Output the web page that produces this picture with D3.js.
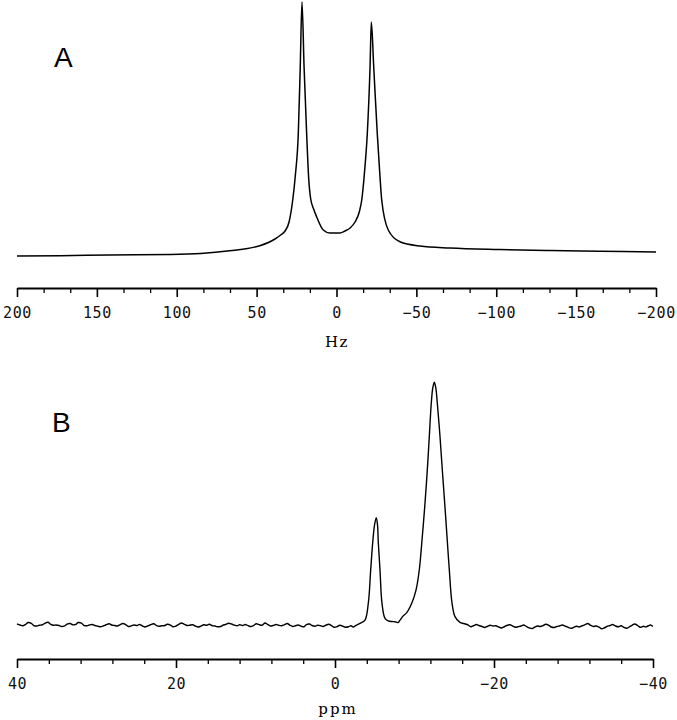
<!DOCTYPE html>
<html>
<head>
<meta charset="utf-8">
<script src="https://cdn.jsdelivr.net/npm/d3@7"></script>
<style>
  body { margin: 0; background: #fff; }
  svg { display: block; }
</style>
</head>
<body>
<div id="container"></div>
<script>
// ---- data ----
// panel A: [Hz, intensity]
let specA = [
  [200, 0], [173, 0.1], [142, 0.4], [104, 0.6], [85, 1.0], [67, 2.1],
  [48, 4.1], [38.5, 6.8], [35, 8.4], [32.2, 10], [29.7, 13.6], [27.4, 22.4],
  [25.8, 32], [23.9, 49.2], [22.7, 75.6], [21.6, 101.6], [20.3, 75.6],
  [18.7, 49.2], [17.4, 31], [16.2, 23], [14.2, 18.6], [12.4, 15.6], [8.3, 10.4],
  [4.1, 9.2], [-2.2, 9.2], [-5.3, 10], [-8.5, 11.2], [-11.6, 13.6],
  [-14.2, 17.5], [-15.8, 22.4], [-17.6, 34], [-19.3, 49.2], [-21.0, 75.6],
  [-21.8, 93.6], [-23.3, 75.6], [-25.5, 49.2], [-27.0, 34], [-28.3, 22.4],
  [-32.4, 10.4], [-39.7, 5.7], [-52.3, 4], [-71, 3.2], [-102, 2.6],
  [-134, 2.2], [-165, 1.9], [-200, 1.6]
];
// panel B: [ppm, intensity]
let specB = [
  [40, 1.6], [39.6, 1.2], [39.3, 0.9], [38.9, 1.5], [38.6, 2.2], [38.2, 1.9], [37.9, 1.0], [37.5, 0.8], [37.2, 1.1], [36.8, 1.3],
  [36.5, 1.9], [36.1, 2.3], [35.8, 1.6], [35.4, 1.1], [35.1, 1.2], [34.7, 1.0], [34.4, 0.6], [34.0, 0.9], [33.7, 1.6], [33.3, 1.8],
  [33.0, 1.3], [32.6, 1.5], [32.3, 2.2], [31.9, 2.0], [31.6, 1.1], [31.2, 0.9], [30.9, 1.2], [30.5, 1.4], [30.2, 1.0], [29.8, 0.7],
  [29.5, 0.5], [29.1, 0.9], [28.8, 1.3], [28.4, 1.7], [28.1, 1.2], [27.7, 1.0], [27.4, 0.8], [27.0, 1.4], [26.7, 1.8], [26.3, 1.3],
  [26.0, 0.6], [25.6, 0.9], [25.3, 1.2], [24.9, 1.0], [24.6, 1.4], [24.2, 0.8], [23.9, 0.4], [23.5, 0.9], [23.2, 1.3], [22.8, 1.7],
  [22.5, 1.1], [22.1, 0.7], [21.8, 0.9], [21.4, 1.0], [21.1, 1.5], [20.7, 1.2], [20.4, 0.5], [20.0, 0.8], [19.7, 1.4], [19.3, 2.0],
  [19.0, 1.6], [18.6, 1.0], [18.3, 1.1], [17.9, 1.3], [17.6, 0.8], [17.2, 0.4], [16.9, 0.7], [16.5, 1.3], [16.2, 1.1], [15.8, 1.5],
  [15.5, 1.0], [15.1, 0.8], [14.8, 0.5], [14.4, 0.6], [14.1, 1.1], [13.7, 1.5], [13.4, 1.9], [13.0, 1.6], [12.7, 1.2], [12.3, 0.9],
  [12.0, 1.3], [11.6, 1.0], [11.3, 1.4], [10.9, 0.9], [10.6, 0.6], [10.2, 1.1], [9.9, 1.7], [9.5, 1.3], [9.2, 1.1], [8.8, 2.0],
  [8.5, 1.5], [8.1, 0.8], [7.8, 1.0], [7.4, 1.4], [7.1, 1.1], [6.7, 0.9], [6.4, 1.3], [6.0, 1.8], [5.7, 1.2], [5.3, 0.6],
  [5.0, 0.9], [4.6, 1.2], [4.3, 0.8], [3.9, 0.5], [3.6, 1.4], [3.2, 1.6], [2.9, 1.0], [2.5, 0.7], [2.2, 1.1], [1.8, 0.9],
  [1.5, 0.6], [1.1, 1.2], [0.8, 1.5], [0.4, 0.9], [0.1, 0.3], [-0.3, 0.6], [-0.6, 1.1], [-1.0, 0.7], [-1.3, 0.3], [-1.7, 0.5],
  [-2.0, 0.9], [-2.3, 0.4], [-2.6, 1.0],
  // peaks
  [-3.14, 1.9], [-3.77, 3.2], [-4.19, 10.0], [-4.49, 23.4], [-4.74, 34.3],
  [-4.97, 41.5], [-5.19, 44.5], [-5.35, 41.5], [-5.45, 34.3], [-5.66, 23.4],
  [-5.91, 10.0], [-6.29, 3.9], [-6.70, 2.9], [-7.17, 2.6], [-7.55, 2.5],
  [-7.92, 2.2], [-8.18, 3.2], [-8.55, 4.8], [-9.02, 6.2], [-9.65, 10.0],
  [-10.19, 15.3], [-10.60, 23.4], [-10.98, 36.8], [-11.32, 50.3], [-11.61, 63.7],
  [-11.86, 77.1], [-12.11, 90.6], [-12.30, 96.8], [-12.49, 99.1], [-12.68, 96.8],
  [-12.87, 90.6], [-13.21, 77.1], [-13.50, 63.7], [-13.80, 50.3], [-14.09, 36.8],
  [-14.38, 23.4], [-14.72, 10.0], [-15.09, 4.6], [-15.72, 2.3], [-16.2, 1.8], [-16.77, 1.2],
  // right baseline
  [-17.1, 0.5], [-17.4, 0.9], [-17.8, 1.4], [-18.1, 1.0], [-18.5, 0.6], [-18.8, 0.2], [-19.2, 0.7], [-19.5, 1.1], [-19.9, 0.8], [-20.2, 0.9],
  [-20.6, 0.4], [-20.9, 0.0], [-21.3, 0.5], [-21.6, 1.0], [-22.0, 1.3], [-22.3, 0.9], [-22.7, 0.3], [-23.0, 0.5], [-23.4, 0.8], [-23.7, 1.2],
  [-24.1, 0.6], [-24.4, 0.1], [-24.8, -0.2], [-25.1, 0.3], [-25.5, 0.8], [-25.8, 0.6], [-26.2, 1.0], [-26.5, 1.5], [-26.9, 1.1], [-27.2, 0.4],
  [-27.6, 0.2], [-27.9, 0.6], [-28.3, 0.9], [-28.6, 1.2], [-29.0, 0.7], [-29.3, 0.3], [-29.7, -0.1], [-30.0, 0.2], [-30.4, 0.7], [-30.7, 0.4],
  [-31.1, 0.9], [-31.4, 1.3], [-31.8, 1.8], [-32.1, 1.2], [-32.5, 0.6], [-32.8, 0.8], [-33.2, 0.4], [-33.5, -0.3], [-33.9, 0.1], [-34.2, 0.6],
  [-34.6, 1.0], [-34.9, 1.4], [-35.3, 0.8], [-35.6, 0.5], [-36.0, 0.9], [-36.3, 0.3], [-36.7, -0.1], [-37.0, 0.4], [-37.4, 1.2], [-37.7, 1.6],
  [-38.1, 0.9], [-38.4, 0.3], [-38.8, 0.7], [-39.1, 0.4], [-39.4, 0.9], [-39.7, 1.2], [-40.0, 0.6]
];

// tick values
let ticksA = [200, 150, 100, 50, 0, -50, -100, -150, -200];
let minorA = [183.33, 166.67, 133.33, 116.67, 83.33, 66.67, 33.33, 16.67,
  -16.67, -33.33, -66.67, -83.33, -116.67, -133.33, -166.67, -183.33];
let ticksB = [40, 20, 0, -20, -40];
let minorB = [36, 32, 28, 24, 16, 12, 8, 4, -4, -8, -12, -16, -24, -28, -32, -36];

let W = 677, H = 720;

let svg = d3.select("#container")
  .append("svg")
    .attr("width", W)
    .attr("height", H)
;

// scales
let xA = d3.scaleLinear().domain([200, -200]).range([17, 656]);
let yA = d3.scaleLinear().domain([0, 100]).range([256, 6]);
let xB = d3.scaleLinear().domain([40, -40]).range([17, 653]);
let yB = d3.scaleLinear().domain([0, 100]).range([628, 380]);

function drawAxis(x, y0, majors, minors) {
  let g = svg.append("g").attr("transform", "translate(0," + y0 + ")");
  // minor ticks
  g.append("g")
      .call(d3.axisBottom(x).tickValues(minors).tickSize(5).tickSizeOuter(0).tickFormat(""))
      .call(s => s.select(".domain").remove())
      .selectAll("line").attr("stroke-width", 1.3)
  ;
  // major ticks + labels
  let ax = g.append("g")
      .call(d3.axisBottom(x).tickValues(majors).tickSize(9).tickSizeOuter(0).tickPadding(10));
  ax.select(".domain").attr("stroke-width", 1.8);
  ax.selectAll("line").attr("stroke-width", 1.6);
  ax.selectAll("text")
      .attr("font-family", "DejaVu Sans Mono")
      .attr("font-size", 15)
      .attr("letter-spacing", 0.6)
      .attr("fill", "#111")
  ;
  return g;
}

// ---- panel A ----
drawAxis(xA, 288, ticksA, minorA);

svg.append("path")
    .datum(specA)
    .attr("d", d3.line().x(d => xA(d[0])).y(d => yA(d[1])).curve(d3.curveMonotoneX))
    .attr("fill", "none")
    .attr("stroke", "black")
    .attr("stroke-width", 1.5)
;

svg.append("text")
    .text("A")
    .attr("x", 54)
    .attr("y", 67)
    .attr("font-family", "Liberation Sans")
    .attr("font-size", 28)
;

svg.append("text")
    .text("Hz")
    .attr("x", 337)
    .attr("y", 347)
    .attr("text-anchor", "middle")
    .attr("font-family", "DejaVu Serif")
    .attr("font-size", 15)
    .attr("letter-spacing", 1.5)
;

// ---- panel B ----
drawAxis(xB, 659, ticksB, minorB);

svg.append("path")
    .datum(specB)
    .attr("d", d3.line().x(d => xB(d[0])).y(d => yB(d[1])).curve(d3.curveCatmullRom.alpha(0.5)))
    .attr("fill", "none")
    .attr("stroke", "black")
    .attr("stroke-width", 1.4)
;

svg.append("text")
    .text("B")
    .attr("x", 52)
    .attr("y", 432)
    .attr("font-family", "Liberation Sans")
    .attr("font-size", 28)
;

svg.append("text")
    .text("ppm")
    .attr("x", 338)
    .attr("y", 714)
    .attr("text-anchor", "middle")
    .attr("font-family", "DejaVu Serif")
    .attr("font-size", 15)
    .attr("letter-spacing", 2)
;
</script>
</body>
</html>
